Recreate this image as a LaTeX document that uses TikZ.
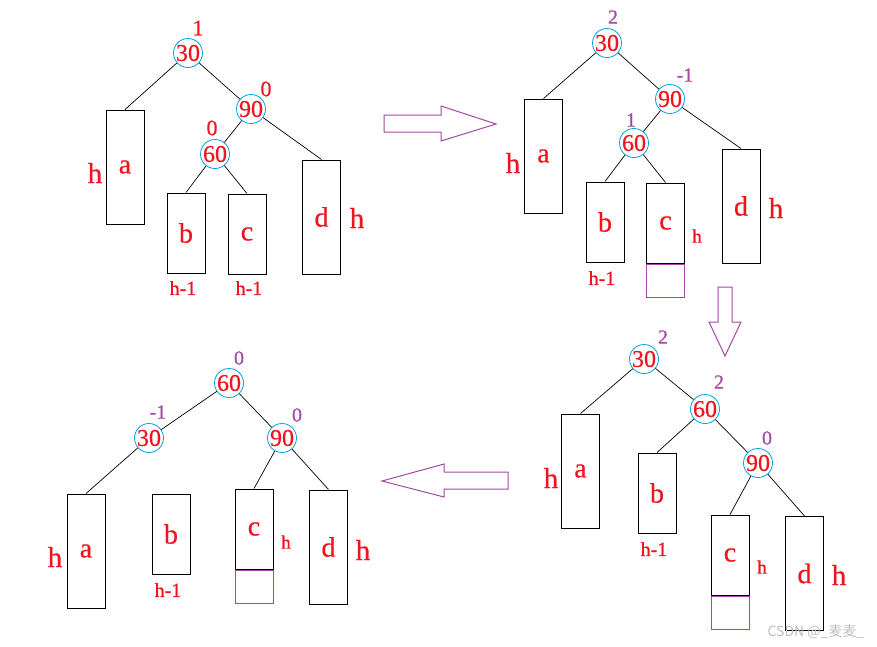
\documentclass[tikz,border=0pt]{standalone}
\usepackage{fontspec}
\setmainfont{Liberation Serif}
\newfontfamily\rfont[FakeBold=0.6]{Liberation Serif}
\newfontfamily\cjkwm{Noto Sans CJK SC}
\definecolor{cred}{RGB}{240,20,30}
\definecolor{cblue}{RGB}{0,162,232}
\definecolor{cpurp}{RGB}{163,73,164}
\tikzset{
  tn/.style={circle, draw=cblue, line width=0.8pt, minimum size=29pt, inner sep=0pt, text=cred, font=\rfont\fontsize{24}{24}\selectfont},
  box/.style={draw=black, line width=1pt, rectangle, minimum width=38pt, inner sep=0pt, text=cred, font=\rfont\fontsize{28}{28}\selectfont},
  pbox/.style={draw=cpurp, line width=1pt, rectangle, minimum width=38pt, minimum height=33pt, inner sep=0pt, anchor=north},
  bfr/.style={text=cred, inner sep=0pt, font=\rfont\fontsize{22}{22}\selectfont},
  bfp/.style={text=cpurp, inner sep=0pt, font=\rfont\fontsize{20}{20}\selectfont},
  hbig/.style={text=cred, inner sep=0pt, font=\rfont\fontsize{29}{29}\selectfont},
  hsm/.style={text=cred, inner sep=0pt, font=\rfont\fontsize{19}{19}\selectfont},
  hm/.style={text=cred, inner sep=0pt, font=\rfont\fontsize{20}{20}\selectfont},
  edge/.style={draw=black, line width=0.7pt},
  bigarrow/.style={draw=cpurp, line width=1pt, line join=miter},
}
\begin{document}
\begin{tikzpicture}[x=1pt,y=-1pt]
\useasboundingbox (0,0) rectangle (877,646);
\fill[white] (0,0) rectangle (877,646);

% ---------- Tree 1 (top left) ----------
\node[tn] (t1n30) at (188,53) {30};
\node[tn] (t1n90) at (251,109) {90};
\node[tn] (t1n60) at (215,154) {60};
\node[box, minimum height=114pt] (t1a) at (125,167) {a};
\node[box, minimum height=80pt] (t1b) at (186,233) {b};
\node[box, minimum height=80pt] (t1c) at (247,234) {c};
\node[box, minimum height=114pt] (t1d) at (321.5,217) {d};
\node[bfr] (t1f30) at (198,28) {1};
\node[bfr] (t1f90) at (266,89) {0};
\node[bfr] (t1f60) at (212,128) {0};
\node[hbig] (t1ha) at (95,173) {h};
\node[hm] (t1hb) at (183,288) {h-1};
\node[hm] (t1hc) at (249,288) {h-1};
\node[hbig] (t1hd) at (357,218) {h};
\draw[edge] (t1n30) -- (t1a.north);
\draw[edge] (t1n30) -- (t1n90);
\draw[edge] (t1n90) -- (t1n60);
\draw[edge] (t1n90) -- (t1d.north);
\draw[edge] (t1n60) -- (t1b.north);
\draw[edge] (t1n60) -- (t1c.north);

% ---------- Tree 2 (top right) ----------
\node[tn] (t2n30) at (607,43) {30};
\node[tn] (t2n90) at (670,99) {90};
\node[tn] (t2n60) at (634,143) {60};
\node[box, minimum height=114pt] (t2a) at (543.5,156) {a};
\node[box, minimum height=80pt] (t2b) at (605,222) {b};
\node[box, minimum height=80pt] (t2c) at (665.5,223) {c};
\node[pbox] (t2p) at (t2c.south) {};
\node[box, minimum height=114pt] (t2d) at (741,206) {d};
\node[bfp] (t2f30) at (613,17) {2};
\node[bfp] (t2f90) at (685,75) {-1};
\node[bfp] (t2f60) at (631,120) {1};
\node[hbig] (t2ha) at (513,163) {h};
\node[hm] (t2hb) at (602,278) {h-1};
\node[hsm] (t2hc) at (697,236) {h};
\node[hbig] (t2hd) at (776,208) {h};
\draw[edge] (t2n30) -- (t2a.north);
\draw[edge] (t2n30) -- (t2n90);
\draw[edge] (t2n90) -- (t2n60);
\draw[edge] (t2n90) -- (t2d.north);
\draw[edge] (t2n60) -- (t2b.north);
\draw[edge] (t2n60) -- (t2c.north);

% ---------- Tree 3 (bottom right) ----------
\node[tn] (t3n30) at (644,359) {30};
\node[tn] (t3n60) at (705,409) {60};
\node[tn] (t3n90) at (758,463) {90};
\node[box, minimum height=114pt] (t3a) at (580.5,471) {a};
\node[box, minimum height=80pt] (t3b) at (657,493) {b};
\node[box, minimum height=80pt] (t3c) at (730,555) {c};
\node[pbox] (t3p) at (t3c.south) {};
\node[box, minimum height=114pt] (t3d) at (804.5,573.5) {d};
\node[bfp] (t3f30) at (663,337) {2};
\node[bfp] (t3f60) at (719,382) {2};
\node[bfp] (t3f90) at (767,438) {0};
\node[hbig] (t3ha) at (551,478) {h};
\node[hm] (t3hb) at (654,549) {h-1};
\node[hsm] (t3hc) at (762,567) {h};
\node[hbig] (t3hd) at (839,575) {h};
\draw[edge] (t3n30) -- (t3a.north);
\draw[edge] (t3n30) -- (t3n60);
\draw[edge] (t3n60) -- (t3b.north);
\draw[edge] (t3n60) -- (t3n90);
\draw[edge] (t3n90) -- (t3c.north);
\draw[edge] (t3n90) -- (t3d.north);

% ---------- Tree 4 (bottom left) ----------
\node[tn] (t4n60) at (229,383) {60};
\node[tn] (t4n30) at (149,438) {30};
\node[tn] (t4n90) at (282,438) {90};
\node[box, minimum height=114pt] (t4a) at (86,551) {a};
\node[box, minimum height=80pt] (t4b) at (171,534) {b};
\node[box, minimum height=80pt] (t4c) at (254,529) {c};
\node[pbox] (t4p) at (t4c.south) {};
\node[box, minimum height=114pt] (t4d) at (328.5,547) {d};
\node[bfp] (t4f60) at (239,358) {0};
\node[bfp] (t4f30) at (158,412) {-1};
\node[bfp] (t4f90) at (297,415) {0};
\node[hbig] (t4ha) at (55,557) {h};
\node[hm] (t4hb) at (168,590) {h-1};
\node[hsm] (t4hc) at (286,542) {h};
\node[hbig] (t4hd) at (363,550) {h};
\draw[edge] (t4n60) -- (t4n30);
\draw[edge] (t4n60) -- (t4n90);
\draw[edge] (t4n30) -- (t4a.north);
\draw[edge] (t4n90) -- (t4c.north);
\draw[edge] (t4n90) -- (t4d.north);

% ---------- Big arrows ----------
\draw[bigarrow] (384,115) -- (441,115) -- (441,106) -- (496,124) -- (441,141) -- (441,132) -- (384,132) -- cycle;
\draw[bigarrow] (718,287) -- (732,287) -- (732,322) -- (741,322) -- (725,356) -- (709,322) -- (718,322) -- cycle;
\draw[bigarrow] (508,472) -- (444,472) -- (444,464) -- (382,481) -- (444,497) -- (444,489) -- (508,489) -- cycle;

% ---------- Watermark ----------
\node[text=black!25, inner sep=0pt, font=\cjkwm\fontsize{14}{14}\selectfont] (wm) at (816,632) {CSDN @\_麦麦\_};
\end{tikzpicture}
\end{document}
